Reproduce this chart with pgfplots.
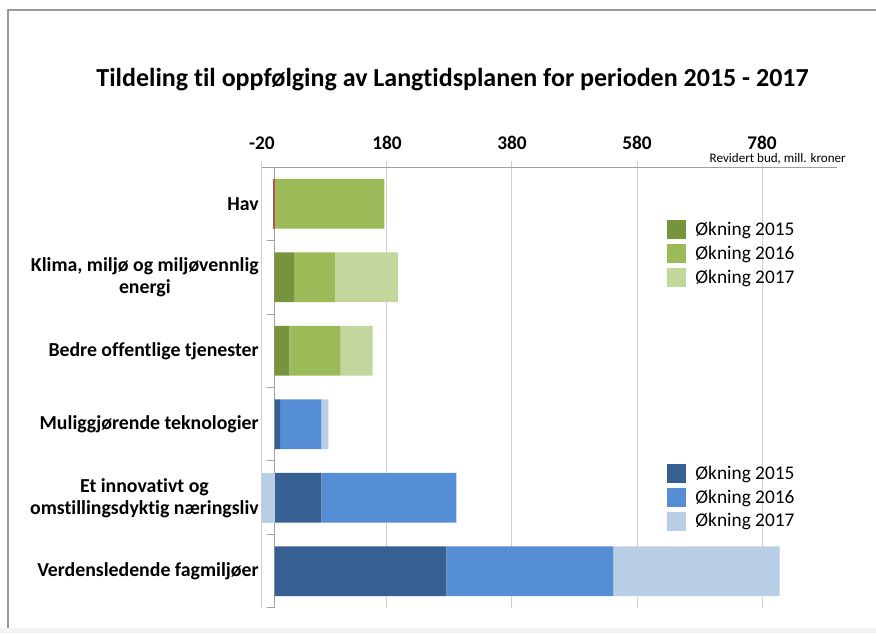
\documentclass[border=0pt]{standalone}
\usepackage{pgfplots}
\pgfplotsset{compat=1.18}
\usepackage{fontspec}
\setmainfont{Carlito}[Ligatures=NoCommon]
\definecolor{g15}{HTML}{77933C}
\definecolor{g16}{HTML}{9BBB59}
\definecolor{g17}{HTML}{C3D69B}
\definecolor{b15}{HTML}{376092}
\definecolor{b16}{HTML}{558ED5}
\definecolor{b17}{HTML}{B9CDE5}
\definecolor{rd}{HTML}{C0504D}
\definecolor{gridc}{HTML}{D0D0D0}
\definecolor{axc}{HTML}{A0A0A0}
\pgfplotsset{
  base/.style={
    scale only axis, width=431.25pt, height=330.75pt,
    xmin=-20, xmax=900, ymin=-0.5, ymax=5.5, y dir=reverse,
    bar width=0.68,
  },
  sq/.style={legend image code/.code={\fill[##1] (0pt,-7.1pt) rectangle (14.25pt,7.1pt);}},
  leg/.style={legend cell align=left, legend style={at={#1}, anchor=north west, draw=none, fill=none,
     font=\fontsize{14.5}{17}\selectfont, row sep=2.3pt, inner sep=0pt,
     /tikz/every odd column/.append style={column sep=5pt}}},
}
\begin{document}
\begin{tikzpicture}[x=0.75pt,y=0.75pt]
\path[use as bounding box] (0,0) rectangle (876,633);
\fill[gray!10] (0,0) rectangle (876,5);
\draw[gray!80, line width=0.9pt] (8,5) -- (8,623) -- (876,623);
\coordinate (O) at (262,466);
\node[font=\bfseries\fontsize{19.5}{23}\selectfont] at (452.5,553) {Tildeling til oppfølging av Langtidsplanen for perioden 2015 - 2017};
\node[anchor=east, inner sep=0pt, font=\fontsize{9.8}{11}\selectfont] at (846,474.5) {Revidert bud, mill. kroner};
\begin{axis}[base, at={(O)}, anchor=north west,
  xbar stacked,
  axis x line*=top, axis y line*=middle,
  axis line style={axc, line width=0.75pt},
  xtick={-20,180,380,580,780}, xticklabels={-20,180,380,580,780},
  xticklabel style={font=\bfseries\fontsize{14.5}{17}\selectfont, yshift=5.25pt},
  xtick align=outside, major tick length=4.5pt,
  xtick style={gridc, line width=0.75pt},
  xmajorgrids, grid style={gridc, line width=0.75pt},
  ytick={0,1,2,3,4,5},
  yticklabels={Hav, {Klima, miljø og miljøvennlig\\energi}, Bedre offentlige tjenester, Muliggjørende teknologier, {Et innovativt og\\omstillingsdyktig næringsliv}, Verdensledende fagmiljøer},
  yticklabel style={align=center, font=\bfseries\fontsize{14.85}{16.5}\selectfont, xshift=-3.8pt},
  major y tick style={draw=none},
  minor ytick={-0.5,0.5,1.5,2.5,3.5,4.5,5.5},
  minor y tick style={axc, line width=0.75pt},
  ytick align=outside, minor tick length=5.25pt,
  leg={(0.704,0.882)},
]
\addplot[fill=g15, draw=none, sq] coordinates {(0,0) (31,1) (24,2)};
\addlegendentry{Økning 2015}
\addplot[fill=g16, draw=none, sq] coordinates {(176,0) (66.5,1) (82,2)};
\addlegendentry{Økning 2016}
\addplot[fill=g17, draw=none, sq] coordinates {(0,0) (100,1) (51,2)};
\addlegendentry{Økning 2017}
\end{axis}
\begin{axis}[base, at={(O)}, anchor=north west, xbar stacked, hide axis,
  leg={(0.704,0.329)}]
\addplot[fill=b15, draw=none, sq] coordinates {(9,3) (75,4) (275,5)};
\addlegendentry{Økning 2015}
\addplot[fill=b16, draw=none, sq] coordinates {(66,3) (216,4) (267,5)};
\addlegendentry{Økning 2016}
\addplot[fill=b17, draw=none, sq] coordinates {(11,3) (0,4) (266,5)};
\addlegendentry{Økning 2017}
\end{axis}
\begin{axis}[base, at={(O)}, anchor=north west, xbar, bar shift=0pt, hide axis]
\addplot[fill=rd, draw=none, bar shift=0pt] coordinates {(-2,0)};
\addplot[fill=b17, draw=none, bar shift=0pt] coordinates {(-21,4)};
\end{axis}
\end{tikzpicture}
\end{document}
